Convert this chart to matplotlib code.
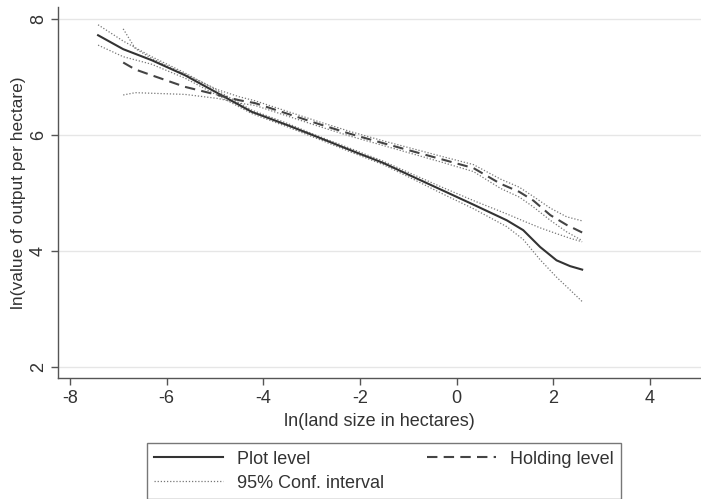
import matplotlib
matplotlib.use("Agg")
import matplotlib.pyplot as plt
from matplotlib.lines import Line2D

plt.rcParams['font.family'] = ['Liberation Sans', 'DejaVu Sans']

# Plot level (solid) with 95% CI
plot_x = [-7.42, -6.9, -6.31, -5.62, -4.94, -4.24, -3.5, -2.89, -2.2, -1.52, -0.9, -0.3, 0.35, 1.04, 1.38, 1.73, 2.07, 2.35, 2.6]
plot_y = [7.72, 7.48, 7.29, 7.03, 6.72, 6.40, 6.17, 5.97, 5.74, 5.52, 5.28, 5.05, 4.80, 4.53, 4.36, 4.07, 3.84, 3.74, 3.68]
plot_hi = [7.90, 7.62, 7.35, 7.07, 6.76, 6.43, 6.20, 5.99, 5.77, 5.55, 5.32, 5.10, 4.87, 4.64, 4.52, 4.40, 4.30, 4.22, 4.16]
plot_lo = [7.55, 7.35, 7.22, 6.98, 6.68, 6.37, 6.14, 5.94, 5.71, 5.49, 5.24, 4.99, 4.73, 4.42, 4.20, 3.85, 3.55, 3.33, 3.13]

# Holding level (dashed) with 95% CI
hold_x = [-6.9, -6.65, -6.31, -5.62, -4.94, -4.5, -4.17, -2.89, -2.2, -1.52, -0.3, 0.35, 0.91, 1.3, 1.59, 1.94, 2.28, 2.6]
hold_y = [7.25, 7.13, 7.03, 6.83, 6.69, 6.60, 6.55, 6.20, 6.02, 5.86, 5.58, 5.43, 5.16, 5.02, 4.87, 4.62, 4.45, 4.32]
hold_hi = [7.83, 7.49, 7.32, 7.05, 6.78, 6.66, 6.59, 6.24, 6.06, 5.90, 5.63, 5.49, 5.24, 5.10, 4.94, 4.74, 4.59, 4.52]
hold_lo = [6.69, 6.73, 6.72, 6.70, 6.63, 6.55, 6.51, 6.16, 5.98, 5.82, 5.53, 5.37, 5.08, 4.93, 4.76, 4.53, 4.33, 4.18]

x_ticks = [-8, -6, -4, -2, 0, 2, 4]
y_ticks = [2, 4, 6, 8]

fig = plt.figure(figsize=(7.01, 4.99), dpi=100)
ax = fig.add_axes([0.0827, 0.243, 0.9173, 0.743])

ci_kw = dict(color='#777777', lw=0.9, linestyle=(0, (1, 1.5)))
ax.plot(plot_x, plot_hi, **ci_kw)
ax.plot(plot_x, plot_lo, **ci_kw)
ax.plot(hold_x, hold_hi, **ci_kw)
ax.plot(hold_x, hold_lo, **ci_kw)
ax.plot(plot_x, plot_y, color='#333333', lw=1.5)
ax.plot(hold_x, hold_y, color='#444444', lw=1.5, linestyle=(0, (5, 3)))

ax.set_xlim(-8.25, 5.06)
ax.set_ylim(1.816, 8.207)
ax.set_xticks(x_ticks)
ax.set_yticks(y_ticks)
ax.set_xticklabels([str(v) for v in x_ticks], fontsize=13, color='#333333')
ax.set_yticklabels([str(v) for v in y_ticks], fontsize=13, color='#333333', rotation=90, va='center')
ax.tick_params(axis='both', direction='out', length=5, color='#555555', width=1)
ax.tick_params(axis='x', pad=4)
ax.tick_params(axis='y', pad=3)
ax.grid(axis='y', color='#e6e6e6', lw=1)
ax.set_axisbelow(True)
for s in ['top', 'right']:
    ax.spines[s].set_visible(False)
for s in ['left', 'bottom']:
    ax.spines[s].set_color('#555555')
    ax.spines[s].set_linewidth(1)

ax.set_xlabel('ln(land size in hectares)', fontsize=13, color='#333333', labelpad=4)
ax.set_ylabel('ln(value of output per hectare)', fontsize=12.5, color='#333333', labelpad=3)

handles = [
    Line2D([], [], color='#333333', lw=1.5),
    Line2D([], [], **ci_kw),
    Line2D([], [], color='#444444', lw=1.5, linestyle=(0, (5, 3))),
]
labels = ['Plot level', '95% Conf. interval', 'Holding level']
leg = fig.legend(handles, labels, ncol=2, loc='lower left',
                 bbox_to_anchor=(0.21, 0.0, 0.676, 0.122), mode='expand',
                 fontsize=13, frameon=True, fancybox=False, handlelength=3.8,
                 borderaxespad=0, labelspacing=0.4, handletextpad=0.8,
                 borderpad=0.4)
leg.get_frame().set_edgecolor('#555555')
leg.get_frame().set_linewidth(1)
for t in leg.get_texts():
    t.set_color('#333333')

fig.savefig('out.png', dpi=100)
